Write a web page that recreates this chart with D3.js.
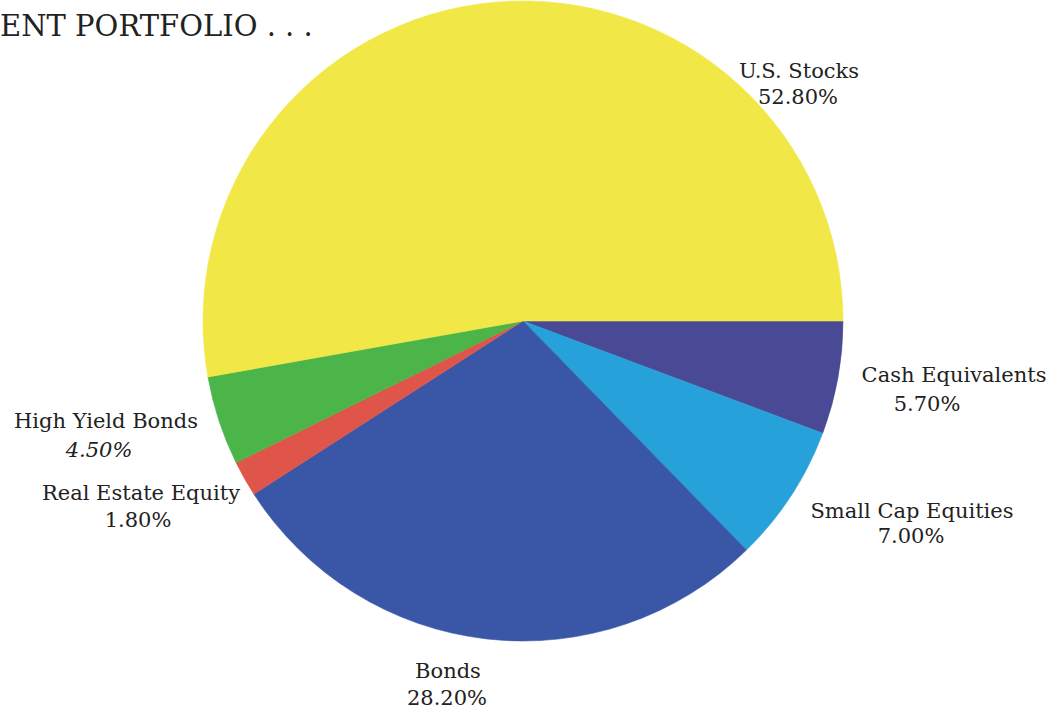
<!DOCTYPE html>
<html>
<head>
<meta charset="utf-8">
<script src="https://cdn.jsdelivr.net/npm/d3@7"></script>
<style>
  html, body { margin: 0; padding: 0; background: #fff; }
  svg { display: block; }
  .lbl { font-family: "DejaVu Serif", serif; font-size: 21px; fill: #222; }
  .title { font-family: "DejaVu Serif", serif; font-size: 29px; fill: #222; }
</style>
</head>
<body>
<svg id="chart" width="1056" height="709"></svg>
<script>
// Portfolio allocation, listed clockwise from 3 o'clock
const categories = ["Cash Equivalents", "Small Cap Equities", "Bonds", "Real Estate Equity", "High Yield Bonds", "U.S. Stocks"];
const shares = [5.7, 7.0, 28.2, 1.8, 4.5, 52.8];
const percentLabels = ["5.70%", "7.00%", "28.20%", "1.80%", "4.50%", "52.80%"];
const sliceColors = ["#4a4996", "#27a1d9", "#3a57a7", "#df5549", "#4cb549", "#f1e847"];

// Label placement (name baseline / percent baseline, centre x for each line)
const labelLayout = [
  { nx: 954, ny: 382, px: 927, py: 411 },
  { nx: 912, ny: 518, px: 911, py: 543 },
  { nx: 448, ny: 678, px: 447, py: 705 },
  { nx: 141, ny: 500, px: 138, py: 527 },
  { nx: 106, ny: 428, px: 99,  py: 457, italic: true },
  { nx: 799, ny: 78,  px: 798, py: 104 }
];

const svg = d3.select("#chart");
const cx = 523, cy = 321, radius = 320;

const pie = d3.pie()
  .sort(null)
  .value(d => d)
  .startAngle(Math.PI / 2)
  .endAngle(Math.PI / 2 + 2 * Math.PI);

const arc = d3.arc().innerRadius(0).outerRadius(radius);

const g = svg.append("g").attr("transform", `translate(${cx},${cy})`);

g.selectAll("path.slice")
  .data(pie(shares))
  .join("path")
  .attr("class", "slice")
  .attr("d", arc)
  .attr("fill", (d, i) => sliceColors[i])
  .attr("stroke", (d, i) => sliceColors[i])
  .attr("stroke-width", 0.6);

// Title fragment at the top-left
svg.append("text")
  .attr("class", "title")
  .attr("x", 0)
  .attr("y", 36)
  .text("ENT PORTFOLIO . . .");

// Category names and percentages
const labels = svg.append("g");
categories.forEach((name, i) => {
  const L = labelLayout[i];
  labels.append("text")
    .attr("class", "lbl")
    .attr("x", L.nx).attr("y", L.ny)
    .attr("text-anchor", "middle")
    .text(name);
  labels.append("text")
    .attr("class", "lbl")
    .attr("x", L.px).attr("y", L.py)
    .attr("text-anchor", "middle")
    .attr("font-style", L.italic ? "italic" : null)
    .text(percentLabels[i]);
});
</script>
</body>
</html>
